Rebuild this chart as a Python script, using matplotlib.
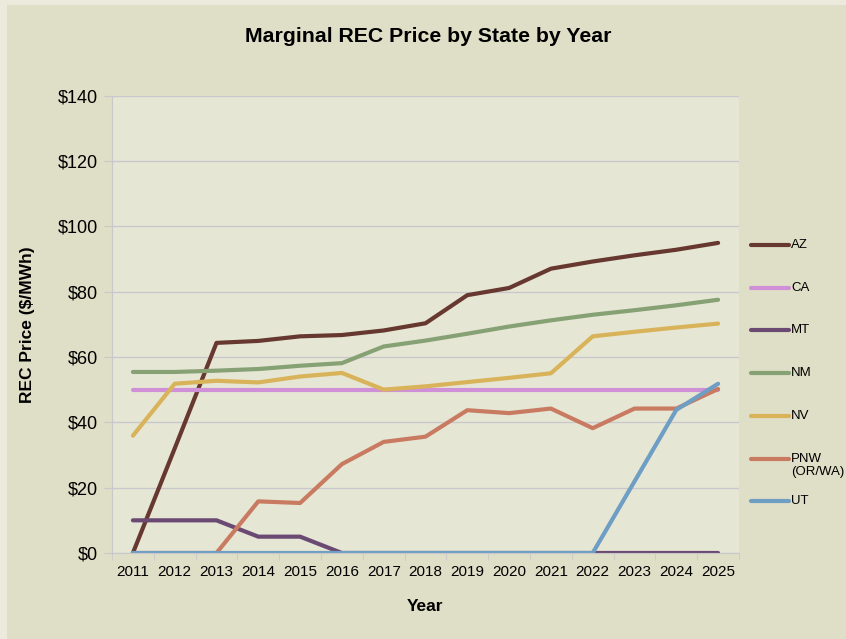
import matplotlib
matplotlib.use("Agg")
import matplotlib.pyplot as plt
from matplotlib.lines import Line2D
from matplotlib.patches import Rectangle
from matplotlib.ticker import FuncFormatter, MultipleLocator

plt.rcParams['font.family'] = ['Liberation Sans', 'DejaVu Sans']

years = list(range(2011, 2026))
states = ['AZ', 'CA', 'MT', 'NM', 'NV', 'PNW\n(OR/WA)', 'UT']
colors = ['#66382f', '#cf90d8', '#6a4a72', '#86a274', '#d9b35a', '#c97b62', '#6f9ec4']

az = [0, 32, 64.3, 64.9, 66.3, 66.7, 68.1, 70.3, 78.9, 81.1, 87.0, 89.2, 91.1, 92.8, 94.9]
ca = [50] * 15
mt = [10, 10, 10, 5, 5, 0, 0, 0, 0, 0, 0, 0, 0, 0, 0]
nm = [55.4, 55.4, 55.8, 56.3, 57.3, 58.1, 63.2, 65.0, 67.1, 69.3, 71.2, 72.9, 74.3, 75.8, 77.5]
nv = [35.9, 51.8, 52.7, 52.2, 54.0, 55.1, 50.0, 51.0, 52.3, 53.6, 55.0, 66.3, 67.7, 69.0, 70.2]
pnw = [0, 0, 0, 15.8, 15.3, 27.2, 34.0, 35.6, 43.7, 42.8, 44.2, 38.2, 44.2, 44.2, 50.2]
ut = [0, 0, 0, 0, 0, 0, 0, 0, 0, 0, 0, 0, 21.9, 43.8, 51.8]
series = [az, ca, mt, nm, nv, pnw, ut]

W, H = 846, 639
fig = plt.figure(figsize=(W / 100, H / 100), dpi=100)
fig.patch.set_facecolor('#ebeadd')
fig.add_artist(Rectangle((7 / W, 0), 1, 1 - 5 / H, transform=fig.transFigure,
                         facecolor='#dfdec6', edgecolor='none', zorder=-1))

ax = fig.add_axes([112 / W, 1 - 553 / H, (739 - 112) / W, (553 - 95.5) / H])
ax.set_facecolor('#e6e6d5')

x = list(range(len(years)))
for vals, c in zip(series, colors):
    ax.plot(x, vals, color=c, lw=3, solid_capstyle='round', solid_joinstyle='round')

ax.set_xlim(-0.5, len(years) - 0.5)
ax.set_ylim(0, 140)
ax.yaxis.set_major_locator(MultipleLocator(20))
ax.yaxis.set_major_formatter(FuncFormatter(lambda v, p: f'${v:.0f}'))
ax.set_xticks(x)
ax.set_xticklabels([str(y) for y in years])
ax.set_xticks([i - 0.5 for i in range(len(years) + 1)], minor=True)
ax.tick_params(axis='x', which='major', length=0, labelsize=11, pad=9)
ax.tick_params(axis='x', which='minor', length=5, color='#c8c8c8', direction='out')
ax.tick_params(axis='y', length=6, color='#c8c8c8', labelsize=13, pad=4)
ax.grid(axis='y', color='#c8c8cc', lw=1)
ax.set_axisbelow(True)
for s in ['top', 'right']:
    ax.spines[s].set_visible(False)
for s in ['left', 'bottom']:
    ax.spines[s].set_color('#c8c8c8')

ax.set_xlabel('Year', fontsize=12.5, fontweight='bold', labelpad=14)
ax.set_ylabel('REC Price ($/MWh)', fontsize=12.5, fontweight='bold')
ax.yaxis.set_label_coords(-(112 - 35) / 627, 0.5)

fig.text(428 / W, 1 - 37 / H, 'Marginal REC Price by State by Year', ha='center', va='center',
         fontsize=15.3, fontweight='bold')

# legend drawn by hand so the two-line PNW label hangs below its key
for i, (name, c) in enumerate(zip(states, colors)):
    yk = 1 - (245 + i * 42.7) / H
    fig.add_artist(Line2D([751 / W, 789 / W], [yk, yk], transform=fig.transFigure,
                          color=c, lw=3, solid_capstyle='round'))
    fig.text(791 / W, yk + 6 / H, name, ha='left', va='top', fontsize=9.5, linespacing=1.2)

fig.savefig('out.png', dpi=100, facecolor=fig.get_facecolor())
